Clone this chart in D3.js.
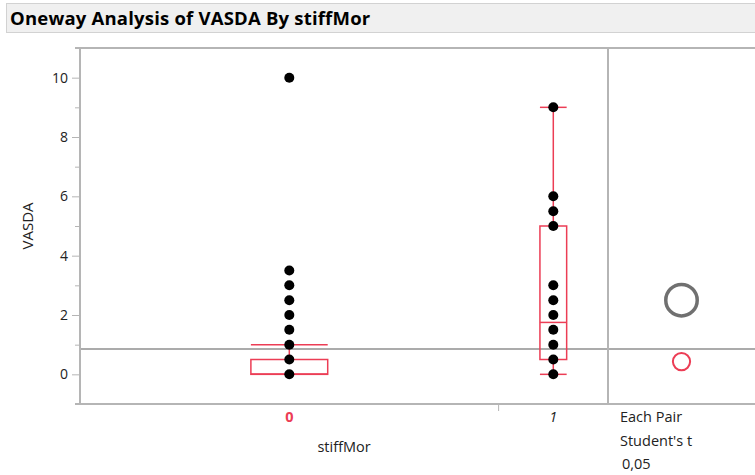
<!DOCTYPE html>
<html>
<head>
<meta charset="utf-8">
<script src="https://cdn.jsdelivr.net/npm/d3@7"></script>
<style>
  html, body { margin: 0; padding: 0; background: #fff; }
  svg { display: block; }
  text { font-family: "Open Sans", "Noto Sans", "DejaVu Sans", sans-serif; }
</style>
</head>
<body>
<script>
// VASDA observations by stiffMor group, as distinct values with their counts
const categories = ["0", "1"];
const values0 = [0, 0.5, 1, 1.5, 2, 2.5, 3, 3.5, 10];
const counts0 = [110, 35, 14, 6, 4, 3, 2, 1, 1];
const values1 = [0, 0.5, 1, 1.5, 2, 2.5, 3, 5, 5.5, 6, 9];
const counts1 = [7, 7, 2, 7, 2, 3, 6, 4, 3, 4, 1];
// half-width of each group's comparison circle (Student's t, 0.05), in VASDA units
const ciHalfWidth = [0.29, 0.53];
const yTicks = [0, 2, 4, 6, 8, 10];
const yMinorTicks = [-1, 1, 3, 5, 7, 9, 11];
const titleText = "Oneway Analysis of VASDA By stiffMor";
const yTitle = "VASDA";
const xTitle = "stiffMor";
const testLines = ["Each Pair", "Student's t", "0,05"];

const W = 755, H = 475;
const plot = { left: 80, right: 608, top: 48, bottom: 404 };
const panelRight = 755;
const RED = "#ec3d55";
const FRAME = "#b5b5b5";

const svg = d3.select("body").append("svg").attr("width", W).attr("height", H);

// expand value/count pairs into observation lists
function expand(vals, cnts) {
  const out = [];
  vals.forEach((v, i) => { for (let k = 0; k < cnts[i]; k++) out.push(v); });
  return out.sort((a, b) => a - b);
}
const groups = [expand(values0, counts0), expand(values1, counts1)];
const distinct = [values0, values1];

// quantile at p using the p(n+1) position rule
function quant(sorted, p) {
  const n = sorted.length;
  const pos = p * (n + 1);
  if (pos <= 1) return sorted[0];
  if (pos >= n) return sorted[n - 1];
  const lo = Math.floor(pos), f = pos - lo;
  return sorted[lo - 1] + f * (sorted[lo] - sorted[lo - 1]);
}

// group widths proportional to group size
const sizes = groups.map(g => g.length);
const cum = [0];
sizes.forEach((s, i) => cum.push(cum[i] + s));
const x = d3.scaleLinear().domain([0, cum[cum.length - 1]]).range([plot.left, plot.right]);
const y = d3.scaleLinear().domain([-1, 11]).range([plot.bottom, plot.top]);

// title bar
svg.append("rect").attr("x", 6.5).attr("y", 3.5).attr("width", W).attr("height", 29)
  .attr("fill", "#f0f0f0").attr("stroke", "#d2d2d2");
svg.append("text").attr("x", 10).attr("y", 25).text(titleText)
  .attr("font-size", 18.5).attr("font-weight", 700).attr("letter-spacing", 0.2).attr("fill", "#000");

// grand mean line
const all = groups.flat();
const grandMean = d3.mean(all);
svg.append("line").attr("x1", plot.left).attr("x2", panelRight)
  .attr("y1", y(grandMean)).attr("y2", y(grandMean))
  .attr("stroke", "#ababab").attr("stroke-width", 2);

// frame
const frame = svg.append("g").attr("stroke", FRAME).attr("stroke-width", 2).attr("fill", "none");
frame.append("line").attr("x1", plot.left - 5).attr("x2", panelRight).attr("y1", plot.top).attr("y2", plot.top);
frame.append("line").attr("x1", plot.left - 5).attr("x2", panelRight).attr("y1", plot.bottom).attr("y2", plot.bottom);
frame.append("line").attr("x1", plot.left).attr("x2", plot.left).attr("y1", plot.top).attr("y2", plot.bottom);
frame.append("line").attr("x1", plot.right).attr("x2", plot.right).attr("y1", plot.top).attr("y2", plot.bottom);

// y axis
const yAxis = d3.axisLeft(y).tickValues(yTicks).tickSize(8).tickPadding(4).tickFormat(d3.format("d"));
const gy = svg.append("g").attr("transform", `translate(${plot.left},0)`).call(yAxis);
gy.select(".domain").remove();
gy.selectAll(".tick line").attr("stroke", FRAME).attr("stroke-width", 1);
gy.selectAll(".tick text").attr("font-size", 14).attr("fill", "#222")
  .style("font-family", "'Open Sans', 'Noto Sans', sans-serif");
const gyMinor = svg.append("g").attr("transform", `translate(${plot.left},0)`)
  .call(d3.axisLeft(y).tickValues(yMinorTicks).tickSize(5).tickFormat(""));
gyMinor.select(".domain").remove();
gyMinor.selectAll(".tick line").attr("stroke", FRAME).attr("stroke-width", 1);

svg.append("text")
  .attr("transform", `translate(33,${(plot.top + plot.bottom) / 2}) rotate(-90)`)
  .attr("text-anchor", "middle").attr("font-size", 15).attr("fill", "#222").text(yTitle);

// x axis: group boundary ticks and group labels
cum.slice(1, -1).forEach(c => {
  svg.append("line").attr("x1", x(c)).attr("x2", x(c)).attr("y1", plot.bottom).attr("y2", plot.bottom + 7)
    .attr("stroke", FRAME).attr("stroke-width", 1);
});
categories.forEach((c, i) => {
  const cx = x((cum[i] + cum[i + 1]) / 2);
  svg.append("text").attr("x", cx).attr("y", 422).attr("text-anchor", "middle")
    .attr("font-size", 14.5)
    .attr("font-weight", i === 0 ? 700 : 400)
    .attr("font-style", i === 0 ? "normal" : "italic")
    .attr("fill", i === 0 ? RED : "#222").text(c);
});
svg.append("text").attr("x", (plot.left + plot.right) / 2).attr("y", 452)
  .attr("text-anchor", "middle").attr("font-size", 14.5).attr("fill", "#222").text(xTitle);

// box plots
groups.forEach((g, i) => {
  const x0 = x(cum[i]), x1 = x(cum[i + 1]);
  const cx = (x0 + x1) / 2;
  const bw = 0.162 * (x1 - x0) + 9;
  const q1 = quant(g, 0.25), med = quant(g, 0.5), q3 = quant(g, 0.75);
  const iqr = q3 - q1;
  const hi = d3.max(g.filter(v => v <= q3 + 1.5 * iqr));
  const lo = d3.min(g.filter(v => v >= q1 - 1.5 * iqr));
  const bg = svg.append("g").attr("stroke", RED).attr("stroke-width", 1.5).attr("fill", "none");
  bg.append("rect").attr("x", cx - bw / 2).attr("y", y(q3)).attr("width", bw).attr("height", y(q1) - y(q3));
  bg.append("line").attr("x1", cx - bw / 2).attr("x2", cx + bw / 2).attr("y1", y(med)).attr("y2", y(med));
  bg.append("line").attr("x1", cx).attr("x2", cx).attr("y1", y(q3)).attr("y2", y(hi));
  bg.append("line").attr("x1", cx).attr("x2", cx).attr("y1", y(q1)).attr("y2", y(lo));
  bg.append("line").attr("x1", cx - bw / 2).attr("x2", cx + bw / 2).attr("y1", y(hi)).attr("y2", y(hi));
  bg.append("line").attr("x1", cx - bw / 2).attr("x2", cx + bw / 2).attr("y1", y(lo)).attr("y2", y(lo));
});

// points
groups.forEach((g, i) => {
  const cx = x((cum[i] + cum[i + 1]) / 2);
  svg.append("g").selectAll("circle").data(distinct[i]).join("circle")
    .attr("cx", cx).attr("cy", d => y(d)).attr("r", 5).attr("fill", "#000");
});

// comparison circles
const ccx = (plot.right + panelRight) / 2;
groups.forEach((g, i) => {
  const m = d3.mean(g);
  svg.append("circle").attr("cx", ccx).attr("cy", y(m))
    .attr("r", y(0) - y(ciHalfWidth[i]))
    .attr("fill", "none")
    .attr("stroke", i === 0 ? RED : "#707070")
    .attr("stroke-width", i === 0 ? 2 : 3.5);
});

// test description
testLines.forEach((t, i) => {
  svg.append("text").attr("x", 620 + (i === 2 ? 2 : 0)).attr("y", 422 + i * 23.5)
    .attr("font-size", 14.5).attr("fill", "#222").text(t);
});
</script>
</body>
</html>
